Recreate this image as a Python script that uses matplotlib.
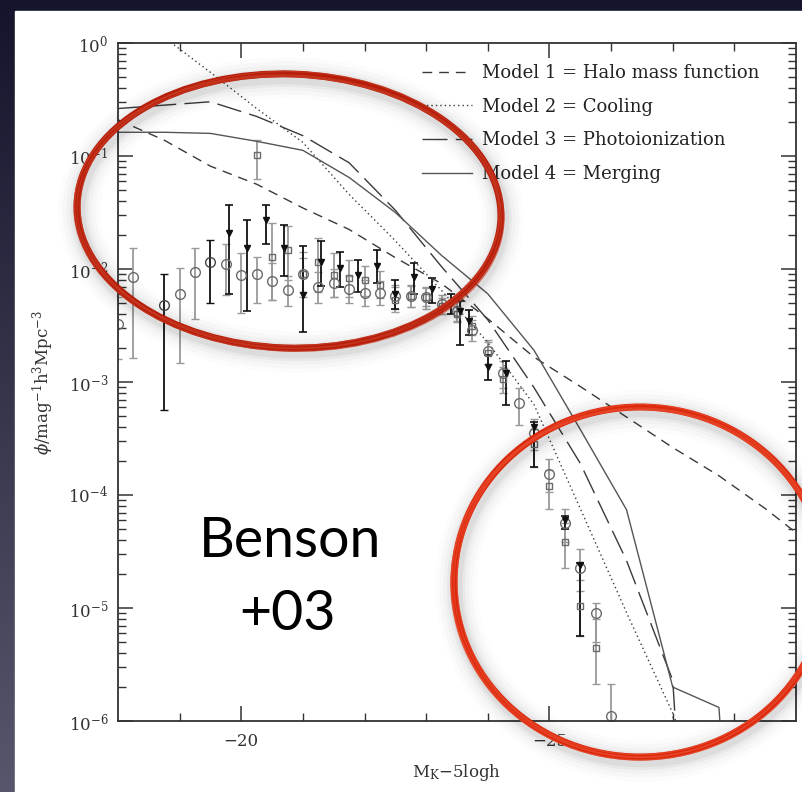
import matplotlib
matplotlib.use('Agg')
import matplotlib.pyplot as plt
from matplotlib.patches import Ellipse, Rectangle
import numpy as np

plt.rcParams['font.family'] = 'DejaVu Serif'
plt.rcParams['mathtext.fontset'] = 'dejavuserif'

# model curves (log10 phi) on the model magnitude grid
mod_M = [-18.0, -18.75, -19.5, -20.25, -21.0, -21.75, -22.5, -23.25, -24.0,
         -24.75, -25.5, -26.25, -27.0, -27.75, -28.5, -29.25]
mod1_lp = [-0.68, -0.86, -1.09, -1.25, -1.46, -1.65, -1.90, -2.13, -2.44,
           -2.78, -3.04, -3.31, -3.58, -3.83, -4.12, -4.44]
mod2_lp = [0.37, 0.05, -0.26, -0.58, -0.88, -1.34, -1.75, -2.19, -2.65,
           -3.20, -4.12, -5.04, -5.93, -12, -12, -12]
mod3_lp = [-0.58, -0.55, -0.52, -0.65, -0.82, -1.06, -1.48, -1.98, -2.45,
           -3.05, -3.72, -4.58, -5.64, -12, -12, -12]
mod4_lp = [-0.79, -0.79, -0.80, -0.87, -0.95, -1.19, -1.50, -1.88, -2.22,
           -2.72, -3.42, -4.13, -5.70, -5.88, -12, -12]
mod_labels = ['Model 1 = Halo mass function', 'Model 2 = Cooling',
              'Model 3 = Photoionization', 'Model 4 = Merging']

# open circles, grey bars
circ_M = [-18.0, -18.25, -19.0, -19.25, -19.75, -20.0, -20.25, -20.5, -20.75, -21.0,
          -21.25, -21.5, -21.75, -22.0, -22.25, -22.5, -22.75, -23.0, -23.25, -23.5,
          -23.75, -24.0, -24.25, -24.5, -24.75, -25.0, -25.25, -25.5, -25.75, -26.0]
circ_lp = [-2.49, -2.07, -2.22, -2.03, -1.96, -2.05, -2.04, -2.11, -2.19, -2.04,
           -2.16, -2.12, -2.18, -2.21, -2.21, -2.24, -2.24, -2.25, -2.31, -2.37,
           -2.54, -2.73, -2.92, -3.19, -3.45, -3.81, -4.25, -4.65, -5.04, -5.96]
circ_top = [-2.25, -1.81, -1.99, -1.81, -1.78, -1.86, -1.89, -1.95, -2.06, -1.90,
            -2.03, -2.00, -2.06, -2.10, -2.11, -2.14, -2.15, -2.16, -2.23, -2.29,
            -2.45, -2.63, -2.81, -3.05, -3.33, -3.68, -4.12, -4.48, -4.96, -5.67]
circ_bot = [-2.80, -2.79, -2.83, -2.44, -2.23, -2.39, -2.30, -2.27, -2.33, -2.20,
            -2.30, -2.25, -2.30, -2.33, -2.32, -2.35, -2.34, -2.35, -2.40, -2.46,
            -2.64, -2.84, -3.05, -3.38, -3.60, -3.97, -4.42, -4.85, -5.30, -6.40]

# open circles, black bars
circd_M = [-18.75, -19.5]
circd_lp = [-2.32, -1.94]
circd_top = [-2.04, -1.74]
circd_bot = [-3.25, -2.30]

# small squares, grey bars
sq_M = [-20.25, -20.5, -20.75, -21.0, -21.25, -21.5, -21.75, -22.0, -22.25, -22.5, -22.75,
        -23.0, -23.25, -23.5, -23.75, -24.0, -24.25, -24.75, -25.0, -25.25, -25.5, -25.75]
sq_lp = [-0.99, -1.89, -1.83, -2.04, -1.94, -2.05, -2.08, -2.10, -2.14, -2.27, -2.24,
         -2.25, -2.33, -2.40, -2.50, -2.74, -2.97, -3.55, -3.92, -4.42, -4.98, -5.35]
sq_top = [-0.86, -1.59, -1.62, -1.85, -1.73, -1.86, -1.92, -1.97, -2.02, -2.16, -2.14,
          -2.17, -2.26, -2.33, -2.42, -2.65, -2.87, -3.42, -3.78, -4.25, -4.75, -5.10]
sq_bot = [-1.20, -2.27, -2.10, -2.25, -2.20, -2.25, -2.25, -2.24, -2.26, -2.38, -2.34,
          -2.33, -2.40, -2.47, -2.58, -2.84, -3.10, -3.75, -4.12, -4.65, -5.25, -5.67]

# filled triangles, black bars
tri_M = [-19.8, -20.1, -20.4, -20.7, -21.0, -21.3, -21.6, -21.9, -22.2, -22.5,
         -22.8, -23.1, -23.4, -23.55, -23.7, -24.0, -24.3, -24.75, -25.25, -25.5]
tri_lp = [-1.68, -1.81, -1.57, -1.81, -2.23, -1.94, -1.99, -2.05, -1.97, -2.22,
          -2.07, -2.18, -2.30, -2.37, -2.46, -2.87, -2.92, -3.40, -4.22, -4.62]
tri_top = [-1.43, -1.57, -1.43, -1.61, -1.80, -1.75, -1.85, -1.92, -1.83, -2.10,
           -1.95, -2.08, -2.22, -2.28, -2.36, -2.76, -2.81, -3.35, -4.19, -4.60]
tri_bot = [-2.22, -2.37, -1.78, -2.06, -2.56, -2.15, -2.16, -2.20, -2.12, -2.35,
           -2.22, -2.30, -2.40, -2.67, -2.58, -2.98, -3.20, -3.75, -4.30, -5.25]

W, H = 803, 792
fig = plt.figure(figsize=(W / 100, H / 100), dpi=100)

# slide background
bg = fig.add_axes([0, 0, 1, 1], zorder=-10)
grad = np.linspace(0, 1, 256).reshape(-1, 1)
bg.imshow(grad, extent=[0, W, H, 0], aspect='auto',
          cmap=matplotlib.colors.LinearSegmentedColormap.from_list('bg', ['#14142c', '#56566c']))
bg.add_patch(Rectangle((15, 11), W, H, color='white'))
bg.set_xlim(0, W)
bg.set_ylim(H, 0)
bg.axis('off')

ax = fig.add_axes([118 / W, 1 - 721 / H, 678 / W, 678 / H], zorder=1)
ax.set_facecolor('none')

def err(lp, top, bot):
    phi = 10 ** np.array(lp)
    return phi, [phi - 10 ** np.array(bot), 10 ** np.array(top) - phi]

grey = '#9a9a9a'
phi, e = err(circ_lp, circ_top, circ_bot)
ax.errorbar(circ_M, phi, yerr=e, fmt='o', ms=7, mfc='none', mec='#6a6a6a', mew=1.0,
            ecolor=grey, elinewidth=1.3, capsize=3, capthick=1.2)
phi, e = err(sq_lp, sq_top, sq_bot)
ax.errorbar(sq_M, phi, yerr=e, fmt='s', ms=4.5, mfc='none', mec='#6a6a6a', mew=1.0,
            ecolor=grey, elinewidth=1.3, capsize=3, capthick=1.2)
phi, e = err(circd_lp, circd_top, circd_bot)
ax.errorbar(circd_M, phi, yerr=e, fmt='o', ms=7, mfc='none', mec='#444444', mew=1.0,
            ecolor='#111111', elinewidth=1.3, capsize=3, capthick=1.2)
phi, e = err(tri_lp, tri_top, tri_bot)
ax.errorbar(tri_M, phi, yerr=e, fmt='v', ms=5, mfc='#111111', mec='#111111',
            ecolor='#111111', elinewidth=1.3, capsize=3, capthick=1.2)

lc = '#3a3a3a'
ax.plot(mod_M, 10 ** np.array(mod1_lp), color=lc, lw=1.0, dashes=(7, 5), label=mod_labels[0])
ax.plot(mod_M, 10 ** np.array(mod2_lp), color=lc, lw=1.0, dashes=(1, 2.2), label=mod_labels[1])
ax.plot(mod_M, 10 ** np.array(mod3_lp), color=lc, lw=1.0, dashes=(18, 6), label=mod_labels[2])
ax.plot(mod_M, 10 ** np.array(mod4_lp), color='#555555', lw=1.0, label=mod_labels[3])

ax.set_yscale('log')
ax.set_ylim(1e-6, 1)
ax.set_xlim(-18, -29)
ax.set_xticks([-20, -25])
ax.set_xticks(np.arange(-19, -29, -1), minor=True)
ax.tick_params(which='both', direction='in', top=True, right=True, colors='#333333',
               labelsize=12, labelcolor='#333333')
ax.tick_params(which='major', length=11, width=1.1)
ax.tick_params(which='minor', length=6, width=1.0)
ax.tick_params(axis='y', pad=7)
ax.tick_params(axis='x', pad=9)
for s in ax.spines.values():
    s.set_color('#333333')
    s.set_linewidth(1.3)
ax.set_xlabel(r'M$_{\rm K}$$-$5logh', fontsize=12, color='#333333', labelpad=8)
ax.set_ylabel(r'$\phi$/mag$^{-1}$h$^{3}$Mpc$^{-3}$', fontsize=12, color='#333333', labelpad=9)

ax.legend(loc='upper left', bbox_to_anchor=(0.448, 0.969), frameon=False, fontsize=13,
          handlelength=2.8, handletextpad=0.55, labelspacing=0.87, borderpad=0,
          borderaxespad=0, labelcolor='#222222')

# slide overlay: hand-drawn ellipses and label
ov = fig.add_axes([0, 0, 1, 1], zorder=5)
ov.set_xlim(0, W)
ov.set_ylim(H, 0)
ov.axis('off')

def ring(cx, cy, w, h, ang, color, light):
    for lw, a in [(30, 0.012), (24, 0.018), (18, 0.025), (13, 0.035), (9, 0.05)]:
        ov.add_patch(Ellipse((cx + 2, cy + 4), w, h, angle=ang, fill=False,
                             color='black', alpha=a, lw=lw))
    ov.add_patch(Ellipse((cx, cy), w, h, angle=ang, fill=False, color=color, lw=5.0))
    for dw, dh, da, dx, dy in [(3, -2, 0.8, -1, 1), (-4, 3, -0.8, 1, -1),
                               (6, 2, 0.4, 0, 2), (-2, -5, -0.4, -1, 0)]:
        ov.add_patch(Ellipse((cx + dx, cy + dy), w + dw, h + dh, angle=ang + da,
                             fill=False, color=light, lw=1.0, alpha=0.7))

ring(289, 211, 424, 274, 2, '#b51c0a', '#c83a22')
ring(640, 582, 372, 350, 0, '#dc280c', '#e84a2c')

ov.text(290, 557, 'Benson', fontsize=40, family='Lato', ha='center', va='baseline', color='black')
ov.text(288, 630, '+03', fontsize=40, family='Lato', ha='center', va='baseline', color='black')

fig.savefig('out.png', dpi=100)
